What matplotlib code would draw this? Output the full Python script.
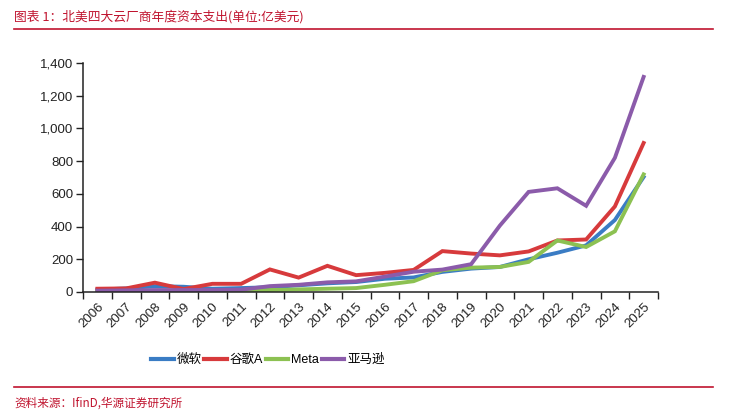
import matplotlib
matplotlib.use("Agg")
import matplotlib.pyplot as plt
import numpy as np

plt.rcParams['font.family'] = ['Liberation Sans', 'Noto Sans CJK SC', 'DejaVu Sans']

years = [str(y) for y in range(2006, 2026)]
microsoft = [14, 22, 36, 32, 20, 24, 29, 41, 53, 61, 81, 89, 123, 143, 153, 200, 240, 285, 440, 703]
google = [20, 22, 57, 18, 50, 50, 138, 88, 160, 103, 117, 135, 250, 235, 224, 248, 315, 321, 523, 911]
meta = [1, 2, 3, 3, 6, 7, 12, 16, 20, 24, 44, 66, 133, 149, 153, 184, 315, 275, 371, 719]
amazon = [8, 10, 12, 12, 12, 14, 36, 44, 59, 65, 94, 124, 137, 170, 406, 612, 634, 527, 820, 1315]

series_names = ['微软', '谷歌A', 'Meta', '亚马逊']
colors = ['#3A7CC4', '#D73A3C', '#8CC152', '#8B5BAA']

red = '#C0142F'
cjk = ['Noto Sans CJK SC', 'DejaVu Sans']

fig = plt.figure(figsize=(7.31, 4.18), dpi=100)
ax = fig.add_axes([83/731, 1 - 292/418, (658 - 83)/731, (292 - 63)/418])

x = np.arange(len(years))
for vals, name, c in zip([microsoft, google, meta, amazon], series_names, colors):
    ax.plot(x, vals, color=c, lw=2.8, label=name, solid_joinstyle='miter')

ax.set_xlim(-0.5, len(years) - 0.5)
ax.set_ylim(0, 1400)
ax.set_yticks(np.arange(0, 1401, 200))
ax.set_yticklabels([f"{v:,}" for v in range(0, 1401, 200)], fontsize=9.5, color='#222222')
ax.set_xticks(np.arange(-0.5, len(years), 1.0))
ax.set_xticklabels([])
ax.set_xticks(x, minor=True)
ax.set_xticklabels(years, minor=True, rotation=45, ha='right', va='top',
                   rotation_mode='anchor', fontsize=9.5, color='#222222')
ax.tick_params(axis='x', which='minor', length=0, pad=6)
ax.tick_params(axis='x', which='major', length=5, width=1, color='#222222', direction='out')
ax.tick_params(axis='y', length=5, width=1, color='#222222', direction='out', pad=2)
for s in ['top', 'right']:
    ax.spines[s].set_visible(False)
for s in ['left', 'bottom']:
    ax.spines[s].set_color('#222222')
    ax.spines[s].set_linewidth(1.1)

leg = fig.legend(loc='center', bbox_to_anchor=(268/731, 1 - 360/418), ncol=4, frameon=False,
                 prop={'family': ['Liberation Sans', 'Noto Sans CJK SC'], 'size': 9},
                 handlelength=1.8, handletextpad=0.25, columnspacing=0.2)
for h in leg.legend_handles:
    h.set_linewidth(3)

fig.text(14/731, 1 - 17/418, '图表 1：北美四大云厂商年度资本支出(单位:亿美元)', color=red,
         fontsize=9.2, va='center', ha='left', family=cjk)
fig.add_artist(plt.Line2D([14/731, 713/731], [1 - 29/418, 1 - 29/418], color=red, lw=1.2))
fig.add_artist(plt.Line2D([14/731, 713/731], [1 - 387/418, 1 - 387/418], color=red, lw=1.2))
fig.text(14/731, 1 - 403/418, '资料来源：IfinD,华源证券研究所', color=red,
         fontsize=8.4, va='center', ha='left', family=cjk)

fig.savefig('out.png', dpi=100)
